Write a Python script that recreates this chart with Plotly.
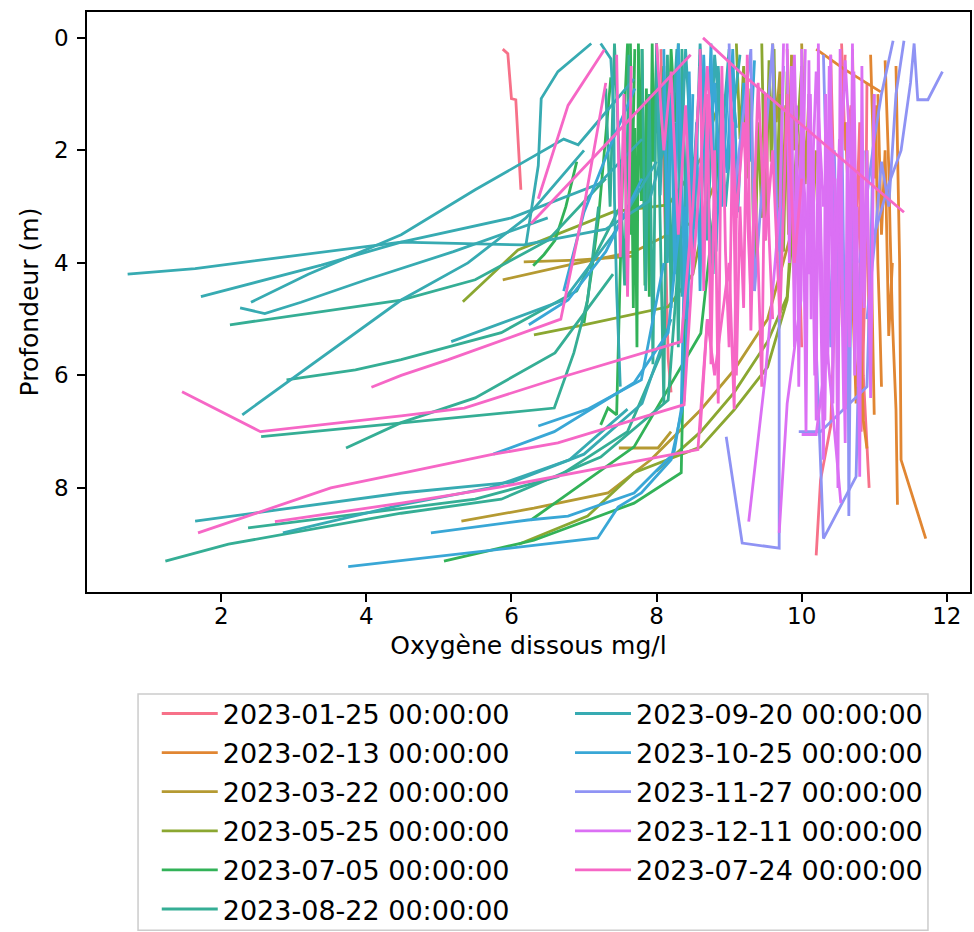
import math
import plotly.graph_objects as go

# ---------------- data ----------------
dates = ["2023-01-25 00:00:00", "2023-02-13 00:00:00", "2023-03-22 00:00:00",
         "2023-05-25 00:00:00", "2023-07-05 00:00:00", "2023-08-22 00:00:00",
         "2023-09-20 00:00:00", "2023-10-25 00:00:00", "2023-11-27 00:00:00",
         "2023-12-11 00:00:00", "2023-07-24 00:00:00"]

x_ticks = [2, 4, 6, 8, 10, 12]
y_ticks = [0, 2, 4, 6, 8]

o2_0125 = [5.88, 5.95, 6.0, 6.06, 6.13, None,
           8.06, 8.09, 8.12, 8.15, 8.16, 8.2, None,
           9.8, 9.85, 9.9, 9.95, 10.0, None,
           10.2, 10.26, 10.4, 10.45, 10.52, 10.6, None,
           10.4, 10.45, 10.5, 10.56, 10.6, 10.63, None,
           10.55, 10.6, 10.68, 10.72, 10.8, 10.85, 10.93, None,
           10.7, 10.75, 10.8, 10.82, 10.88, 10.9]
depth_0125 = [0.2, 0.28, 1.08, 1.1, 2.7, None,
              0.2, 2.0, 3.6, 5.0, 5.7, 6.3, None,
              0.2, 2.5, 4.5, 3.0, 5.5, None,
              9.2, 7.86, 6.9, 5.0, 2.5, 0.3, None,
              0.3, 2.8, 5.5, 3.2, 6.2, 6.6, None,
              0.1, 2.0, 1.2, 4.5, 3.0, 6.0, 8.0, None,
              0.2, 3.5, 1.5, 7.0, 4.0, 0.8]

o2_0213 = [10.2, 10.58, 11.09, None,
           10.95, 11.0, 11.02, 11.05, 11.08, 11.1, None,
           11.15, 11.2, 11.22, 11.25, 11.3, 11.32, None,
           11.3, 11.33, 11.35, 11.37, 11.71, None,
           10.6, 10.65, 10.7, 10.75, 10.8, 10.85, 10.9, None,
           10.9, 10.93, 10.96, 11.0, None,
           11.05, 11.1, 11.15, 11.2, 11.25]
depth_0213 = [0.2, 0.55, 0.96, None,
              0.3, 2.5, 1.2, 4.0, 5.2, 6.2, None,
              0.4, 2.3, 3.5, 5.0, 6.6, 8.3, None,
              0.5, 2.4, 4.0, 7.5, 8.9, None,
              1.5, 3.0, 4.5, 6.5, 5.0, 6.8, 7.3, None,
              2.0, 5.5, 4.0, 6.7, None,
              1.0, 3.5, 2.0, 5.3, 4.0]

o2_0322 = [7.48, 8.02, 8.2, None,
           5.88, 6.78, 7.69, 8.61, 8.8, None,
           6.17, 6.9, 7.69, None,
           5.31, 6.31, 7.33, 7.92, 8.61, 9.07, 9.53, 9.85, 10.0, None,
           9.6, 9.65, 9.7, 9.74, 9.78, 9.82, 9.86, 9.9, None,
           10.0, 10.05, 10.1, 10.15, 10.2]
depth_0322 = [7.29, 7.29, 7.0, None,
              4.3, 4.04, 3.8, 3.2, 2.6, None,
              3.98, 3.95, 3.88, None,
              8.59, 8.36, 8.09, 7.5, 6.61, 5.9, 5.0, 3.5, 1.5, None,
              0.1, 1.5, 0.6, 2.8, 1.2, 3.5, 0.3, 2.0, None,
              0.1, 2.6, 1.0, 3.3, 2.0]

o2_0525 = [5.33, 6.09, 7.41, 8.16, 8.61, 8.9, None,
           6.1, 7.05, 7.69, 8.61, 9.07, 9.53, 9.8, 9.9, None,
           6.31, 7.0, 8.16, 8.5, 8.7, None,
           8.0, 8.61, 9.07, 9.53, 9.8, 9.9, 10.0, None,
           9.1, 9.15, 9.2, 9.25, 9.3, 9.35, 9.4, 9.45, None,
           9.45, 9.5, 9.55, 9.58, 9.62, 9.66, 9.7, None,
           9.6, 9.65, 9.7, 9.75, 9.8]
depth_0525 = [4.69, 3.77, 3.09, 2.97, 2.15, 1.0, None,
              9.0, 8.5, 7.73, 7.27, 6.61, 5.85, 4.66, 3.0, None,
              5.28, 5.1, 4.78, 4.2, 3.0, None,
              7.7, 7.0, 6.3, 5.4, 4.6, 2.5, 0.5, None,
              0.1, 1.8, 0.5, 2.5, 0.9, 4.5, 1.5, 3.2, None,
              0.1, 3.6, 0.4, 2.2, 0.2, 4.0, 1.2, None,
              0.2, 3.0, 1.0, 3.8, 0.6]

o2_0705 = [5.07, 6.31, 7.69, 8.34, 8.36, 8.4, 8.45, None,
           6.27, 7.05, 7.69, 8.61, 8.8, 8.9, None,
           7.23, 7.33, 7.45, 7.5, 7.55, 7.6, 7.65, 7.7, None,
           7.64, 7.68, 7.7, 7.73, 7.75, 7.79, 7.8, 7.84, 7.86, 7.9, 7.94, 7.96, 8.0, None,
           8.0, 8.04, 8.1, 8.13, 8.2, 8.26, 8.3, None,
           7.0, 7.1, 7.2, 7.3, 7.37, None,
           6.3, 6.45, 6.6, 6.75, 6.9]
depth_0705 = [9.3, 8.93, 8.27, 7.73, 6.44, 4.0, 1.5, None,
              8.57, 7.86, 7.27, 5.25, 3.0, 1.0, None,
              6.88, 6.58, 6.7, 4.0, 1.5, 0.1, 3.5, 0.2, None,
              0.1, 4.8, 1.6, 5.5, 0.1, 2.9, 0.2, 4.4, 0.9, 4.6, 0.1, 2.2, 0.3, None,
              0.1, 2.5, 0.5, 3.8, 0.2, 1.5, 0.1, None,
              5.07, 4.2, 3.2, 1.8, 0.7, None,
              4.05, 3.85, 3.6, 3.0, 2.2]

o2_0822 = [1.23, 2.1, 4.48, 5.86, 7.23, 8.16, 8.3, 8.35, None,
           2.37, 4.48, 5.5, 6.64, 7.6, 8.1, None,
           2.55, 4.48, 6.59, 6.86, 7.05, 7.2, None,
           2.9, 3.85, 4.48, 5.86, 6.9, 7.5, None,
           2.12, 4.48, 5.5, 6.5, 7.3, None,
           3.72, 4.48, 5.5, 6.6, 7.4, None,
           7.3, 7.36, 7.42, 7.5, 7.56, 7.62, None,
           7.8, 7.85, 7.9, 7.95, 8.0, 8.05, 8.1, 8.15, 8.2, 8.25, 8.3, 8.35, 8.4]
depth_0822 = [9.3, 9.0, 8.45, 8.2, 7.45, 6.44, 4.0, 1.0, None,
              8.71, 8.36, 8.2, 7.8, 7.0, 5.5, None,
              7.09, 6.84, 6.58, 5.6, 4.66, 3.0, None,
              6.08, 5.9, 5.72, 5.24, 4.5, 3.0, None,
              5.1, 4.66, 4.3, 3.6, 2.5, None,
              7.29, 6.84, 6.4, 5.6, 4.2, None,
              0.9, 3.0, 0.1, 2.4, 4.4, 0.3, None,
              0.2, 4.5, 1.0, 5.8, 0.1, 3.5, 6.5, 0.3, 4.8, 1.5, 5.5, 0.2, 3.0]

o2_0920 = [0.71, 1.64, 2.83, 4.48, 6.17, 7.3, 7.9, 8.2, None,
           1.72, 3.38, 4.48, 6.0, 7.2, 7.8, None,
           2.41, 3.2, 4.48, 5.5, 6.72, 6.92, 7.69, None,
           1.64, 4.48, 6.0, 7.0, 7.8, 8.2, None,
           2.85, 4.48, 5.7, 6.8, 7.6, None,
           2.29, 4.48, 5.4, 6.2, 7.0, None,
           2.26, 2.6, 3.1, 4.0, 5.2, 6.5, None,
           6.2, 6.37, 6.41, 6.64, 7.1, None,
           7.23, 7.37, 7.41, 7.42, 7.45, 7.5, None,
           5.17, 6.72, 7.4, 8.0, None,
           8.2, 8.28, 8.35, 8.45, 8.52, 8.6, 8.7, 8.78, 8.85, 8.95, 9.05, 9.15, None,
           8.0, 8.05, 8.1, 8.15, 8.2, 8.3, 8.4, 8.5, 8.6, 8.7, 8.8, 8.9, 9.0]
depth_0920 = [4.2, 4.1, 3.9, 3.63, 3.68, 3.4, 2.9, 1.5, None,
              4.6, 4.04, 3.63, 3.2, 2.6, 1.8, None,
              4.7, 4.2, 3.5, 2.7, 1.8, 1.9, 0.73, None,
              8.59, 8.09, 7.9, 7.4, 6.5, 5.0, None,
              8.8, 8.3, 8.0, 7.5, 6.6, None,
              6.7, 4.66, 4.0, 3.2, 2.0, None,
              4.8, 4.9, 4.7, 4.3, 3.8, 3.2, None,
              3.68, 2.27, 1.08, 0.6, 0.1, None,
              0.1, 0.37, 1.3, 2.86, 4.5, 6.2, None,
              5.4, 4.66, 3.5, 2.2, None,
              2.0, 0.2, 4.6, 1.0, 3.4, 0.1, 2.6, 4.2, 0.5, 3.0, 1.4, 0.3, None,
              0.1, 2.8, 0.6, 4.0, 1.2, 3.3, 0.2, 2.5, 0.8, 3.6, 0.3, 1.8, 0.2]

o2_1025 = [3.75, 7.19, 7.47, 7.79, 8.2, 8.38, 8.45, 8.5, None,
           4.89, 6.23, 6.78, 7.69, 8.24, 8.34, 8.4, None,
           5.75, 6.59, 7.69, 8.16, 8.3, None,
           6.37, 7.05, 7.79, 8.1, None,
           6.24, 6.78, 7.3, 7.8, None,
           6.72, 7.0, 7.4, 7.7, None,
           8.6, 8.68, 8.75, 8.82, 8.9, 8.97, 9.05, 9.12, 9.2, 9.28, 9.35, None,
           8.1, 8.15, 8.2, 8.25, 8.3, 8.35, 8.4, 8.45, 8.5, 8.55, 8.6, 8.65, 8.7, 8.8, 8.9, 9.0, 9.1]
depth_1025 = [9.4, 8.89, 8.34, 8.09, 7.5, 6.44, 4.0, 1.0, None,
              8.8, 8.57, 8.5, 8.09, 7.38, 6.6, 3.0, None,
              7.4, 7.0, 6.13, 5.24, 3.5, None,
              6.9, 6.6, 6.08, 4.0, None,
              5.1, 4.66, 3.8, 2.5, None,
              4.5, 3.1, 1.8, 0.9, None,
              0.3, 2.9, 0.1, 3.8, 1.2, 2.4, 0.2, 3.1, 0.8, 2.2, 0.4, None,
              0.2, 3.5, 1.0, 4.2, 0.1, 2.6, 5.0, 0.6, 3.8, 1.5, 4.5, 0.3, 2.2, 0.8, 3.0, 0.4, 1.6]

o2_1127 = [8.96, 9.18, 9.69, 9.69, 9.72, 9.75, None,
           9.96, 10.26, 10.9, 10.95, 11.0, None,
           10.1, 10.17, 10.3, 10.75, 10.8, 10.85, None,
           10.63, 10.65, 10.67, 10.7, None,
           11.0, 11.2, 11.37, 11.5, 11.55, 11.6, 11.74, 11.94, None,
           10.8, 10.9, 11.0, 11.1, 11.26, None,
           10.9, 11.0, 11.1, 11.2, 11.3, 11.41, None,
           10.3, 10.35, 10.4, 10.45, 10.5, 10.55, 10.6, None,
           9.0, 9.05, 9.3, 9.35, 9.6, 9.67]
depth_1127 = [7.09, 8.98, 9.07, 5.0, 2.0, 0.5, None,
              7.0, 7.0, 6.2, 4.0, 1.0, None,
              1.0, 4.5, 8.9, 7.8, 5.0, 2.0, None,
              2.0, 8.5, 5.5, 2.5, None,
              3.5, 2.6, 2.0, 0.8, 0.1, 1.1, 1.1, 0.6, None,
              4.0, 2.8, 1.8, 1.0, 0.05, None,
              5.0, 3.7, 2.2, 3.0, 1.0, 0.05, None,
              0.3, 3.0, 5.5, 2.0, 4.8, 1.2, 6.0, None,
              0.1, 3.0, 0.2, 4.5, 0.1, 3.8]

o2_1211 = [9.27, 9.5, 9.7, 9.75, None,
           9.69, 9.8, 9.99, 10.05, None,
           9.8, 9.83, 9.86, 9.9, 9.93, 9.96, 10.0, 10.03, 10.06, 10.1, 10.13, 10.16,
           10.2, 10.23, 10.26, 10.3, 10.33, 10.36, 10.4, 10.43, 10.46, 10.5, 10.53, 10.56,
           10.6, 10.63, 10.66, 10.7, 10.73, 10.76, 10.8, 10.83, 10.86, 10.9, 10.95, 11.0, None,
           9.85, 9.9, 9.95, 10.0, 10.1, 10.2, 10.3, 10.4, 10.5, 10.6, 10.7, 10.8, 10.9, None,
           10.0, 10.2, 10.35, 10.54, None,
           10.05, 10.12, 10.18, 10.25, 10.32, 10.38, 10.45, 10.52, 10.58, 10.65, 10.72, 10.78]
depth_1211 = [8.6, 6.0, 3.0, 0.1, None,
              8.8, 6.5, 4.66, 0.2, None,
              0.1, 4.0, 0.5, 5.5, 1.2, 6.2, 0.2, 3.8, 7.0, 0.4, 5.0, 2.0,
              6.8, 0.1, 4.5, 7.5, 1.0, 5.8, 0.3, 6.5, 2.5, 8.0, 0.2, 4.2,
              7.2, 1.5, 5.5, 0.1, 6.0, 3.0, 7.8, 0.5, 4.8, 2.0, 6.4, 1.0, None,
              2.0, 0.3, 3.2, 1.8, 4.2, 0.6, 3.0, 1.5, 3.6, 0.4, 2.8, 5.0, 3.0, None,
              7.05, 7.05, 5.5, 8.27, None,
              5.0, 1.0, 6.0, 2.5, 6.8, 0.5, 5.2, 1.8, 6.6, 3.5, 0.6, 6.2]

o2_0724 = [1.46, 2.54, 4.48, 5.35, 6.64, 8.34, 8.5, 8.6, None,
           4.07, 4.48, 5.13, 6.68, 7.0, 7.3, None,
           1.68, 3.51, 4.48, 5.72, 6.64, 8.38, 8.5, None,
           2.74, 4.48, 5.86, 8.57, 8.7, None,
           6.37, 6.78, 7.28, None,
           6.27, 8.47, None,
           8.64, 9.16, 11.41, None,
           7.45, 7.5, 7.55, 7.6, 7.65, None,
           8.6, 8.65, 8.7, 8.75, 8.8, 8.85, 8.9, 8.95, 9.0, 9.05, 9.1,
           9.15, 9.2, 9.25, 9.3, 9.35, 9.4, 9.45, 9.5, 9.55, 9.6, None,
           8.0, 8.1, 8.2, 8.3, 8.4, 8.5, 8.6, 8.7, 8.8, None,
           9.0, 9.1, 9.2, 9.3, 9.4, 9.5, 9.6, 9.7, 9.8, 9.9, 10.0, None,
           8.6, 8.7, 8.8, 9.0, 9.07, 9.1]
depth_0724 = [6.29, 7.0, 6.72, 6.58, 6.05, 5.4, 3.0, 0.5, None,
              6.21, 6.0, 5.72, 5.0, 3.0, 0.8, None,
              8.8, 8.0, 7.74, 7.41, 7.2, 6.52, 4.0, None,
              8.6, 8.27, 7.98, 7.32, 5.0, None,
              2.86, 1.2, 0.21, None,
              3.3, 0.3, None,
              0.0, 0.62, 3.1, None,
              0.3, 3.9, 1.0, 4.6, 0.5, None,
              0.2, 4.5, 1.0, 5.8, 2.0, 6.5, 0.5, 3.8, 5.5, 1.5, 6.0,
              3.0, 4.8, 0.3, 5.2, 2.5, 4.0, 6.2, 1.0, 3.5, 5.0, None,
              0.1, 2.0, 0.6, 3.5, 1.2, 4.2, 2.4, 0.5, 3.0, None,
              0.4, 3.2, 1.5, 4.6, 0.8, 3.6, 2.0, 5.0, 1.0, 4.0, 2.5, None,
              7.0, 5.0, 6.0, 4.0, 6.6, 3.0]

series_o2 = [o2_0125, o2_0213, o2_0322, o2_0525, o2_0705, o2_0822,
             o2_0920, o2_1025, o2_1127, o2_1211, o2_0724]
series_depth = [depth_0125, depth_0213, depth_0322, depth_0525, depth_0705, depth_0822,
                depth_0920, depth_1025, depth_1127, depth_1211, depth_0724]


# ---------------- husl palette (seaborn "husl", 11 colours) ----------------
_M = [[3.2406, -1.5372, -0.4986], [-0.9689, 1.8758, 0.0415], [0.0557, -0.2040, 1.0570]]
_refU, _refV = 0.19784, 0.46834


def _max_chroma(L, H):
    hrad = math.radians(H)
    sinH, cosH = math.sin(hrad), math.cos(hrad)
    sub1 = (L + 16) ** 3 / 1560896.0
    sub2 = sub1 if sub1 > 0.008856 else L / 903.3
    result = float("inf")
    for m1, m2, m3 in _M:
        top = (0.99915 * m1 + 1.05122 * m2 + 1.14460 * m3) * sub2
        rbottom = 0.86330 * m3 - 0.17266 * m2
        lbottom = 0.12949 * m3 - 0.38848 * m1
        bottom = (rbottom * sinH + lbottom * cosH) * sub2
        for t in (0.0, 1.0):
            C = L * (top - 1.05122 * t) / (bottom + 0.17266 * sinH * t)
            if 0 < C < result:
                result = C
    return result


def _husl_to_hex(H, S, L):
    C = _max_chroma(L, H) / 100.0 * S
    hrad = math.radians(H)
    U, V = C * math.cos(hrad), C * math.sin(hrad)
    t = (L + 16.0) / 116.0
    varY = t ** 3 if t ** 3 > 0.008856 else (116.0 * t - 16.0) / 903.3
    varU = U / (13.0 * L) + _refU
    varV = V / (13.0 * L) + _refV
    Y = varY
    X = -(9.0 * Y * varU) / ((varU - 4.0) * varV - varU * varV)
    Z = (9.0 * Y - 15.0 * varV * Y - varV * X) / (3.0 * varV)
    out = []
    for row in _M:
        c = row[0] * X + row[1] * Y + row[2] * Z
        c = 12.92 * c if c <= 0.0031308 else 1.055 * c ** (1 / 2.4) - 0.055
        out.append(min(255, max(0, round(c * 255))))
    return "#%02x%02x%02x" % tuple(out)


n = len(dates)
colors = []
for i in range(n):
    h = ((i / n) + 0.01) % 1 * 359
    colors.append(_husl_to_hex(h, 0.9 * 99, 0.65 * 99))

# ---------------- figure ----------------
FONT = "DejaVu Sans"
fig = go.Figure()
for i in range(n):
    fig.add_trace(go.Scatter(
        x=series_o2[i], y=series_depth[i], mode="lines", name=dates[i],
        line=dict(color=colors[i], width=2.8), connectgaps=False,
        legendgroup=str(i), legend="legend" if i < 6 else "legend2",
        hoverinfo="skip"))

axis_common = dict(showgrid=False, zeroline=False, showline=True, mirror=True,
                   linecolor="black", linewidth=1.5, ticks="outside", ticklen=8,
                   tickwidth=1.5, tickcolor="black",
                   tickfont=dict(family=FONT, size=23, color="black"))

fig.update_layout(
    width=974, height=932,
    margin=dict(l=87, r=4, t=12, b=340, autoexpand=False),
    plot_bgcolor="white", paper_bgcolor="white",
    font=dict(family=FONT, size=23, color="black"),
    xaxis=dict(range=[0.15, 12.32], tickvals=x_ticks, ticklabelstandoff=-5,
               title=dict(text="Oxygène dissous mg/l", font=dict(family=FONT, size=25), standoff=8),
               **axis_common),
    yaxis=dict(range=[9.85, -0.46], tickvals=y_ticks, ticklabelstandoff=4,
               title=dict(text="Profondeur (m)", font=dict(family=FONT, size=25), standoff=8),
               **axis_common),
    legend=dict(x=0.079, y=-0.168, xanchor="left", yanchor="top", bgcolor="rgba(0,0,0,0)",
                font=dict(family=FONT, size=27), tracegroupgap=1, itemwidth=56,
                borderwidth=0),
    legend2=dict(x=0.547, y=-0.168, xanchor="left", yanchor="top", bgcolor="rgba(0,0,0,0)",
                 font=dict(family=FONT, size=27), tracegroupgap=1, itemwidth=56,
                 borderwidth=0),
    shapes=[dict(type="rect", xref="paper", yref="paper",
                 x0=0.0578, x1=0.9524, y0=-0.583, y1=-0.1759,
                 line=dict(color="#cccccc", width=1.5), fillcolor="rgba(0,0,0,0)",
                 layer="below")],
)

fig.write_html("out.html")
